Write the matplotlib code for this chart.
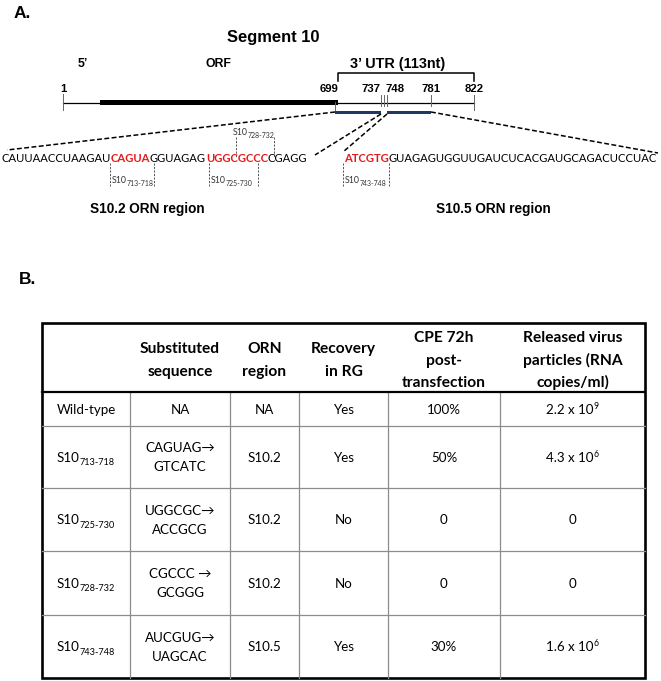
import matplotlib
matplotlib.use('Agg')
import matplotlib.pyplot as plt
from matplotlib.patches import Rectangle
from matplotlib import font_manager

# ---------------- data ----------------
segment_title = "Segment 10"
nt_ticks = [1, 699, 737, 748, 781, 822]
utr_label = "3\u2019 UTR (113nt)"

seq_s102 = [("CAUUAACCUAAGAU", False), ("CAGUA", True), ("GGUAGAG", False),
            ("UGGCGCCC", True), ("CGAGG", False)]
seq_s105 = [("ATCGTG", True), ("GUAGAGUGGUUGAUCUCACGAUGCAGACUCCUAC", False)]
seq_markers = ["713-718", "725-730", "728-732", "743-748"]
region_labels = ["S10.2 ORN region", "S10.5 ORN region"]

header = [[""], ["Substituted", "sequence"], ["ORN", "region"], ["Recovery", "in RG"],
          ["CPE 72h", "post-", "transfection"],
          ["Released virus", "particles (RNA", "copies/ml)"]]
row_names = ["Wild-type", "S10", "S10", "S10", "S10"]
row_subs = [None, "713-718", "725-730", "728-732", "743-748"]
substituted = [["NA"], ["CAGUAG\u2192", "GTCATC"], ["UGGCGC\u2192", "ACCGCG"],
               ["CGCCC \u2192", "GCGGG"], ["AUCGUG\u2192", "UAGCAC"]]
orn_region = ["NA", "S10.2", "S10.2", "S10.2", "S10.5"]
recovery = ["Yes", "Yes", "No", "No", "Yes"]
cpe = ["100%", "50%", "0", "0", "30%"]
released_mant = ["2.2 x 10", "4.3 x 10", "0", "0", "1.6 x 10"]
released_exp = ["9", "6", None, None, "6"]

# ---------------- setup ----------------
W, H = 661, 681
fig = plt.figure(figsize=(W / 100, H / 100), dpi=100)
ax = fig.add_axes([0, 0, 1, 1])
ax.set_xlim(0, W)
ax.set_ylim(H, 0)
ax.axis('off')
R = fig.canvas.get_renderer()

names = {f.name for f in font_manager.fontManager.ttflist}
BODY = ['Lato', 'DejaVu Sans']
ARIAL = ['Liberation Sans', 'DejaVu Sans']
NARROW = (['Liberation Sans Narrow'] if 'Liberation Sans Narrow' in names else []) + ARIAL
RED = '#e31a1c'
NAVY = '#1f3864'
GRAY = '#555555'


def px(size):
    return size * 100 / 72


def measure(s, size, family, weight='normal'):
    if not s:
        return 0.0
    t = ax.text(0, 0, s, fontsize=size, family=family, weight=weight)
    w = t.get_window_extent(R).width
    t.remove()
    return w


def fit(s, target, family, weight='normal'):
    return 10 * target / measure(s, 10, family, weight)


def T(x, yc, s, size, family=BODY, weight='normal', color='black', ha='center'):
    ax.text(x, yc + 0.36 * px(size), s, fontsize=size, family=family,
            weight=weight, color=color, ha=ha, va='baseline')


def junction(a, b, size, fam, wt):
    # space between ink of a's last glyph and b's first glyph
    pair = a[-1] + b[0]
    return measure(pair, size, fam, wt) - measure(a[-1], size, fam, wt) - measure(b[0], size, fam, wt)


def layout(pieces):
    xs, x0 = [], 0.0
    prev = None
    for p in pieces:
        s, size, fam, wt, col, dy = p
        if prev is not None:
            x0 += junction(prev[0], s, prev[1], prev[2], prev[3])
        xs.append(x0)
        x0 += measure(s, size, fam, wt)
        prev = p
    return xs, x0


def runs(x, yc, pieces, ha='left', base_size=None):
    if base_size is None:
        base_size = pieces[0][1]
    yb = yc + 0.36 * px(base_size)
    xs, total = layout(pieces)
    start = x - total / 2 if ha == 'center' else x
    for (s, size, fam, wt, col, dy), xo in zip(pieces, xs):
        ax.text(start + xo, yb + dy, s, fontsize=size, family=fam, weight=wt,
                color=col, ha='left', va='baseline')
    return total


def seq_pieces(parts, size):
    return [(s, size, BODY, 'bold' if red else 'normal', RED if red else 'black', 0)
            for s, red in parts]


def fit_seq(parts, target):
    _, w = layout(seq_pieces(parts, 10))
    return 10 * target / w


# ---------------- Part A ----------------
T(14, 12, "A.", 12.5, ARIAL, 'bold', ha='left')
T(273, 36, segment_title, fit(segment_title, 93, NARROW, 'bold'), NARROW, 'bold')
lab_size = fit("ORF", 26, NARROW, 'bold')
T(83, 63, "5\u2019", lab_size, NARROW, 'bold')
T(218, 63, "ORF", lab_size, NARROW, 'bold')
T(398, 63, utr_label, fit(utr_label, 95, NARROW, 'bold'), NARROW, 'bold')

# bracket over UTR
ax.plot([338, 338, 474, 474], [81, 73, 73, 81], color='black', lw=1.1)

num_size = fit("699", 19, NARROW, 'bold')
tick_x = [63, 329, 371, 395, 431, 474]
for xv, nt in zip(tick_x, nt_ticks):
    T(xv, 88, str(nt), num_size, NARROW, 'bold')

# backbone
ax.plot([63, 474], [102.5, 102.5], color='black', lw=0.9)
ax.add_patch(Rectangle((100, 100.3), 238, 5, color='black', lw=0))
for xv, y0, y1 in [(63, 94, 110), (335, 102, 110), (381, 95, 106), (383.5, 95, 106),
                   (386.5, 95, 106), (431, 95, 106), (474, 95, 110)]:
    ax.plot([xv, xv], [y0, y1], color='#666666', lw=0.7)

# ORN regions (blue bars)
ax.add_patch(Rectangle((335, 110.5), 46, 3.6, color=NAVY, lw=0))
ax.add_patch(Rectangle((387, 110.5), 44, 3.6, color=NAVY, lw=0))

dash = dict(color='black', lw=1.1, linestyle=(0, (3.2, 1.6)))
ax.plot([335, 7], [112, 150], **dash)
ax.plot([381, 315], [114, 155], **dash)
ax.plot([387, 343], [114, 152], **dash)
ax.plot([431, 658], [112, 153], **dash)

# sequences
s1 = fit_seq(seq_s102, 309)
runs(1, 158, seq_pieces(seq_s102, s1))
s2 = fit_seq(seq_s105, 314)
runs(344, 158, seq_pieces(seq_s105, s2))

# marker boxes
mdash = dict(color=GRAY, lw=0.7, linestyle=(0, (2.2, 1.4)))
ms = fit("S10", 15, BODY)
ss = fit("713-718", 27, BODY)
marker_geom = [(110, 154, 163, 186, 112, 180), (209, 258, 163, 186, 211, 180),
               (236, 274, 137, 157, 233, 132), (343, 389, 163, 186, 345, 180)]
for sub, (xa, xb, ya, yb, lx, ly) in zip(seq_markers, marker_geom):
    ax.plot([xa, xa], [ya, yb], **mdash)
    ax.plot([xb, xb], [ya, yb], **mdash)
    runs(lx, ly, [("S10", ms, BODY, 'normal', '#333333', 0),
                  (sub, ss, BODY, 'normal', '#333333', 2.5)])

rs = fit(region_labels[0], 115, NARROW, 'bold')
T(147, 208, region_labels[0], rs, NARROW, 'bold')
T(493, 208, region_labels[1], rs, NARROW, 'bold')

# ---------------- Part B ----------------
T(19, 278, "B.", 12.5, ARIAL, 'bold', ha='left')

col_x = [42, 130, 230, 299, 388, 500, 645]
row_y = [323, 392, 426, 488, 551, 615, 678]
centers = [(col_x[i] + col_x[i + 1]) / 2 for i in range(6)]

inner = dict(color='#8c8c8c', lw=0.9)
for yv in row_y[2:-1]:
    ax.plot([col_x[0], col_x[-1]], [yv, yv], **inner)
for xv in col_x[1:-1]:
    ax.plot([xv, xv], [row_y[1], row_y[-1]], **inner)
ax.plot([col_x[0], col_x[-1]], [row_y[1], row_y[1]], color='black', lw=1.6)
ax.add_patch(Rectangle((col_x[0], row_y[0]), col_x[-1] - col_x[0], row_y[-1] - row_y[0],
                       fill=False, edgecolor='black', lw=1.9))

hs = fit("Substituted", 80, BODY, 'bold')
bs = fit("Wild-type", 59, BODY)
hy = (row_y[0] + row_y[1]) / 2 + 1.5
hgap = 22.5
for cx, lines in zip(centers, header):
    n = len(lines)
    for i, line in enumerate(lines):
        if line:
            T(cx, hy + (i - (n - 1) / 2) * hgap, line, hs, BODY, 'bold')

bgap = 19
for r in range(5):
    yc = (row_y[r + 1] + row_y[r + 2]) / 2
    if row_subs[r] is None:
        T(centers[0], yc, row_names[r], bs)
    else:
        runs(centers[0], yc, [(row_names[r], bs, BODY, 'normal', 'black', 0),
                              (row_subs[r], bs * 0.68, BODY, 'normal', 'black', 3.5)],
             ha='center')
    lines = substituted[r]
    n = len(lines)
    for i, line in enumerate(lines):
        T(centers[1], yc + (i - (n - 1) / 2) * bgap, line, bs)
    T(centers[2], yc, orn_region[r], bs)
    T(centers[3], yc, recovery[r], bs)
    T(centers[4], yc, cpe[r], bs)
    if released_exp[r] is None:
        T(centers[5], yc, released_mant[r], bs)
    else:
        runs(centers[5], yc, [(released_mant[r], bs, BODY, 'normal', 'black', 0),
                              (released_exp[r], bs * 0.65, BODY, 'normal', 'black', -5)],
             ha='center')

fig.savefig('out.png', dpi=100)
